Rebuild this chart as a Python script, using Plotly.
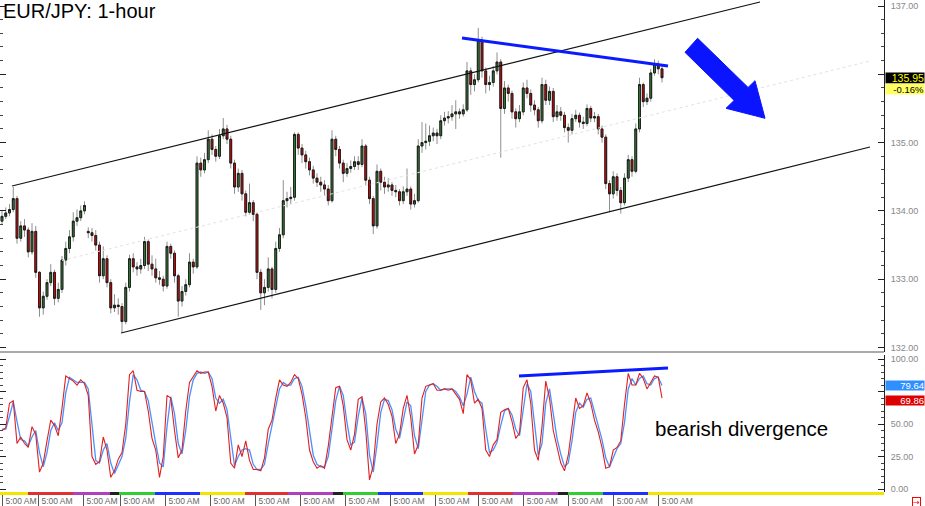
import plotly.graph_objects as go

# ---------------- data (2-hour sampling) ----------------
OPEN = [133.85, 133.92, 133.97, 134.02, 134.18, 133.60, 133.78, 133.72, 133.40, 133.70,
        133.10, 132.58, 132.75, 132.95, 133.10, 132.72, 132.85, 133.28, 133.45, 133.62,
        133.85, 133.90, 134.00, 133.70, 133.68, 133.64, 133.50, 133.05, 133.30, 132.95,
        132.58, 132.62, 132.60, 132.38, 132.88, 133.30, 133.18, 133.15, 133.20, 133.55,
        133.22, 133.15, 133.02, 133.00, 132.90, 133.48, 133.38, 133.05, 132.68, 132.82,
        132.92, 133.25, 133.18, 134.70, 134.60, 134.75, 135.05, 134.90, 134.80, 135.10,
        135.20, 135.05, 134.70, 134.35, 134.55, 134.25, 133.98, 134.12, 133.95, 133.10,
        132.80, 132.88, 133.15, 132.85, 133.45, 133.65, 134.15, 134.18, 134.20, 135.12,
        134.92, 134.82, 134.72, 134.60, 134.48, 134.42, 134.38, 134.32, 134.15, 135.05,
        134.90, 134.70, 134.55, 134.62, 134.65, 134.72, 134.68, 134.95, 134.45, 134.18,
        133.78, 134.58, 134.42, 134.35, 134.38, 134.30, 134.28, 134.15, 134.28, 134.32,
        134.10, 134.15, 134.95, 135.00, 135.02, 135.10, 135.14, 135.10, 135.32, 135.36,
        135.38, 135.42, 135.45, 135.42, 135.48, 136.05, 135.85, 135.92, 136.50, 136.05,
        135.85, 135.88, 136.05, 136.18, 135.50, 135.80, 135.72, 135.45, 135.35, 135.45,
        135.80, 135.72, 135.55, 135.48, 135.32, 135.85, 135.62, 135.75, 135.38, 135.45,
        135.40, 135.22, 135.18, 135.35, 135.40, 135.30, 135.28, 135.50, 135.36, 135.38,
        135.20, 135.08, 134.40, 134.25, 134.50, 134.30, 134.12, 134.48, 134.75, 134.58,
        135.20, 135.85, 135.60, 135.65, 136.02, 136.15, 136.08]
HIGH = [134.00, 134.05, 134.10, 134.35, 134.22, 133.85, 133.88, 133.76, 133.82, 133.78,
        133.12, 132.82, 133.00, 133.22, 133.14, 132.95, 133.34, 133.55, 133.72, 133.98,
        134.02, 134.08, 134.14, 133.76, 133.75, 133.72, 133.55, 133.48, 133.35, 133.00,
        132.78, 132.72, 132.65, 132.95, 133.36, 133.38, 133.25, 133.30, 133.62, 133.58,
        133.35, 133.30, 133.12, 133.05, 133.55, 133.52, 133.42, 133.08, 132.90, 133.00,
        133.38, 133.30, 134.80, 134.78, 134.85, 135.18, 135.12, 134.95, 135.20, 135.36,
        135.26, 135.10, 134.75, 134.62, 134.60, 134.30, 134.40, 134.16, 133.98, 133.15,
        133.00, 133.32, 133.18, 133.55, 133.75, 134.45, 134.28, 134.35, 135.15, 135.15,
        134.98, 134.88, 134.78, 134.66, 134.55, 134.50, 134.45, 134.38, 135.18, 135.10,
        134.95, 134.75, 134.70, 134.74, 134.80, 134.80, 135.05, 134.98, 134.50, 134.22,
        134.68, 134.62, 134.50, 134.48, 134.42, 134.38, 134.32, 134.36, 134.62, 134.36,
        134.25, 135.05, 135.30, 135.28, 135.25, 135.22, 135.20, 135.40, 135.45, 135.46,
        135.55, 135.62, 135.50, 135.56, 136.18, 136.10, 136.00, 136.68, 136.55, 136.10,
        135.98, 136.12, 136.32, 136.22, 135.90, 135.85, 135.76, 135.50, 135.55, 135.88,
        135.92, 135.78, 135.62, 135.52, 135.95, 135.92, 135.82, 135.80, 135.55, 135.52,
        135.45, 135.28, 135.42, 135.48, 135.44, 135.38, 135.56, 135.54, 135.45, 135.42,
        135.25, 135.12, 134.45, 134.58, 134.55, 134.35, 134.55, 134.82, 134.80, 135.28,
        135.95, 135.88, 135.72, 136.08, 136.22, 136.20, 136.12]
LOW = [133.80, 133.88, 133.92, 133.98, 133.52, 133.55, 133.62, 133.32, 133.36, 133.02,
       132.45, 132.48, 132.70, 132.90, 132.62, 132.66, 132.80, 133.20, 133.38, 133.55,
       133.78, 133.85, 133.95, 133.60, 133.55, 133.42, 132.95, 133.00, 132.88, 132.50,
       132.52, 132.48, 132.22, 132.34, 132.82, 133.10, 133.05, 133.08, 133.15, 133.12,
       133.05, 132.95, 132.92, 132.82, 132.86, 133.30, 132.95, 132.45, 132.60, 132.76,
       132.88, 133.08, 133.15, 134.50, 134.55, 134.70, 134.82, 134.72, 134.76, 135.05,
       134.98, 134.62, 134.25, 134.28, 134.15, 133.92, 133.95, 133.85, 133.00, 132.55,
       132.62, 132.82, 132.72, 132.80, 133.40, 133.60, 134.05, 134.10, 134.15, 134.82,
       134.70, 134.62, 134.52, 134.40, 134.35, 134.28, 134.22, 134.08, 134.12, 134.80,
       134.62, 134.42, 134.50, 134.56, 134.60, 134.60, 134.64, 134.38, 134.10, 133.66,
       133.74, 134.30, 134.25, 134.28, 134.22, 134.20, 134.08, 134.10, 134.22, 134.02,
       134.05, 134.12, 134.85, 134.90, 134.95, 135.02, 134.98, 135.05, 135.25, 135.28,
       135.32, 135.20, 135.35, 135.38, 135.45, 135.70, 135.75, 135.88, 135.95, 135.72,
       135.76, 135.82, 136.00, 134.78, 135.42, 135.60, 135.35, 135.22, 135.30, 135.40,
       135.65, 135.45, 135.40, 135.22, 135.28, 135.55, 135.55, 135.30, 135.32, 135.32,
       135.15, 135.00, 135.12, 135.30, 135.22, 135.20, 135.24, 135.30, 135.30, 135.12,
       135.00, 134.32, 133.98, 134.18, 134.22, 133.96, 134.08, 134.42, 134.50, 134.55,
       135.15, 135.52, 135.55, 135.60, 135.98, 136.00, 135.88]
CLOSE = [133.92, 133.97, 134.02, 134.18, 133.60, 133.78, 133.72, 133.40, 133.70, 133.10,
         132.58, 132.75, 132.95, 133.10, 132.72, 132.85, 133.28, 133.45, 133.62, 133.85,
         133.90, 134.00, 134.08, 133.68, 133.64, 133.50, 133.05, 133.30, 132.95, 132.58,
         132.62, 132.60, 132.38, 132.88, 133.30, 133.18, 133.15, 133.20, 133.55, 133.22,
         133.15, 133.02, 133.00, 132.90, 133.48, 133.38, 133.05, 132.68, 132.82, 132.92,
         133.25, 133.18, 134.70, 134.60, 134.75, 135.05, 134.90, 134.80, 135.10, 135.20,
         135.05, 134.70, 134.35, 134.55, 134.25, 133.98, 134.12, 133.95, 133.10, 132.80,
         132.88, 133.15, 132.85, 133.45, 133.65, 134.15, 134.18, 134.20, 135.12, 134.92,
         134.82, 134.72, 134.60, 134.48, 134.42, 134.38, 134.32, 134.15, 135.05, 134.90,
         134.70, 134.55, 134.62, 134.65, 134.72, 134.68, 134.95, 134.45, 134.18, 133.78,
         134.58, 134.42, 134.35, 134.38, 134.30, 134.28, 134.15, 134.28, 134.32, 134.10,
         134.15, 134.95, 135.00, 135.02, 135.10, 135.14, 135.10, 135.32, 135.36, 135.38,
         135.42, 135.45, 135.42, 135.48, 136.05, 135.85, 135.92, 136.50, 136.05, 135.85,
         135.88, 136.05, 136.18, 135.50, 135.80, 135.72, 135.45, 135.35, 135.45, 135.80,
         135.72, 135.55, 135.48, 135.32, 135.85, 135.62, 135.75, 135.38, 135.45, 135.40,
         135.22, 135.18, 135.35, 135.40, 135.30, 135.28, 135.50, 135.36, 135.38, 135.20,
         135.08, 134.40, 134.25, 134.50, 134.30, 134.12, 134.48, 134.75, 134.58, 135.20,
         135.85, 135.60, 135.65, 136.02, 136.15, 136.08, 135.95]

STOCH_K = [45, 47, 66, 68, 35, 40, 35, 32, 48, 42,
           13, 20, 37, 53, 49, 41, 62, 87, 85, 83,
           80, 84, 81, 72, 25, 19, 21, 40, 30, 9,
           14, 23, 28, 50, 88, 91, 76, 75, 75, 60,
           39, 30, 9, 25, 72, 70, 45, 24, 30, 60,
           82, 87, 91, 89, 90, 90, 79, 60, 72, 66,
           55, 20, 16, 34, 25, 37, 22, 15, 15, 14,
           24, 46, 53, 70, 84, 80, 79, 82, 88, 85,
           73, 55, 30, 21, 16, 18, 16, 33, 58, 78,
           79, 64, 38, 30, 42, 69, 71, 45, 7, 18,
           50, 67, 70, 65, 56, 35, 42, 62, 72, 55,
           27, 34, 70, 79, 80, 81, 76, 76, 77, 76,
           77, 73, 69, 58, 88, 84, 66, 69, 62, 30,
           25, 34, 38, 59, 61, 62, 52, 39, 43, 78,
           84, 66, 30, 22, 48, 83, 70, 45, 33, 20,
           14, 26, 48, 70, 62, 64, 74, 66, 53, 44,
           32, 16, 17, 30, 32, 37, 65, 89, 80, 80,
           89, 85, 77, 82, 87, 86, 69.86]
STOCH_D = [46, 46, 56, 67, 52, 38, 37, 33, 40, 45,
           28, 17, 28, 45, 51, 45, 51, 74, 86, 84,
           82, 82, 82, 77, 49, 22, 20, 30, 35, 20,
           12, 18, 25, 39, 67, 88, 84, 76, 75, 68,
           50, 35, 20, 17, 48, 71, 58, 35, 27, 45,
           71, 84, 89, 90, 89, 90, 85, 70, 66, 69,
           61, 38, 18, 25, 30, 31, 30, 19, 15, 15,
           19, 35, 50, 62, 77, 82, 80, 80, 85, 86,
           79, 64, 43, 26, 19, 17, 17, 25, 46, 68,
           79, 72, 51, 34, 36, 56, 70, 58, 26, 13,
           34, 59, 69, 68, 61, 46, 39, 52, 67, 64,
           41, 31, 52, 75, 80, 81, 79, 76, 77, 77,
           77, 75, 71, 64, 73, 86, 75, 68, 66, 46,
           28, 30, 36, 49, 60, 62, 57, 46, 41, 61,
           81, 75, 48, 26, 35, 66, 77, 58, 39, 27,
           17, 20, 37, 59, 66, 63, 69, 70, 60, 49,
           38, 24, 17, 24, 31, 35, 51, 77, 85, 80,
           85, 87, 81, 80, 85, 86, 79.64]

BAR_IDX = list(range(len(CLOSE)))
TICK_IDX = [0, 9.6, 21.6, 31.47, 43.47, 55.47, 67.47, 79.47, 91.47, 103.47,
            115.47, 127, 139, 151, 163, 175]
TICK_TEXT = ["5:00 AM"] * len(TICK_IDX)
PRICE_TICKS = [132, 133, 134, 135, 136, 137]
PRICE_TICK_TEXT = ["132.00", "133.00", "134.00", "135.00", "", "137.00"]   # 136.00 hidden by price box
STOCH_TICKS = [0, 25, 50, 75, 100]
STOCH_TICK_TEXT = ["0.00", "25.00", "50.00", "", "100.00"]                  # 75.00 hidden by value boxes
LAST_PRICE = "135.95"
LAST_CHANGE = "-0.16%"
LAST_D = "79.64"
LAST_K = "69.86"

# drawn studies (bar index, value)
CHANNEL_UP_X, CHANNEL_UP_Y = [2.67, 202.13], [134.365, 137.059]
CHANNEL_LO_X, CHANNEL_LO_Y = [31.73, 231.47], [132.212, 134.936]
CHANNEL_MID_X, CHANNEL_MID_Y = [16.0, 231.47], [133.274, 136.195]
RESIST_X, RESIST_Y = [122.67, 177.6], [136.531, 136.122]
STOCH_LINE_X, STOCH_LINE_Y = [137.87, 177.6], [86.9, 93.1]
ARROW_X = [185.5, 198.96, 200.8, 203.47, 193.07, 195.23, 182.13]
ARROW_Y = [136.527, 135.808, 135.906, 135.356, 135.502, 135.618, 136.322]
DAY_BANDS = [(-0.53, 6.93, "#f2e600"), (6.93, 18.93, "#e03030"), (18.93, 28.8, "#b040c0"),
             (28.8, 31.2, "#222222"), (31.2, 40.8, "#33cc33"), (40.8, 52.8, "#2030ff"),
             (52.8, 64.8, "#f2e600"), (64.8, 76.27, "#e03030"), (76.27, 88.27, "#b040c0"),
             (88.27, 90.93, "#222222"), (90.93, 100.27, "#33cc33"), (100.27, 112.27, "#2030ff"),
             (112.27, 124.27, "#f2e600"), (124.27, 136.27, "#e03030"), (136.27, 148.27, "#b040c0"),
             (148.27, 150.93, "#222222"), (150.93, 160.27, "#33cc33"), (160.27, 172.27, "#2030ff"),
             (172.27, 235.3, "#f2e600")]

# ---------------- figure ----------------
W, H = 925, 506
ML, MR, MT, MB = 0, 41, 0, 14
PH = H - MT - MB
price_dom = [(PH - 352) / PH, 1.0]
stoch_dom = [0.0, (PH - 355) / PH]
FONT = "Liberation Sans, Arial, sans-serif"

fig = go.Figure()

# wicks (grey)
fig.add_trace(go.Candlestick(
    x=BAR_IDX, open=OPEN, high=HIGH, low=LOW, close=CLOSE,
    increasing=dict(line=dict(color="#8f8f8f", width=1), fillcolor="#8f8f8f"),
    decreasing=dict(line=dict(color="#8f8f8f", width=1), fillcolor="#8f8f8f"),
    whiskerwidth=0, hoverinfo="skip", showlegend=False, xaxis="x", yaxis="y"))
# bodies
BODY_HI = [max(o, c) for o, c in zip(OPEN, CLOSE)]
BODY_LO = [min(o, c) for o, c in zip(OPEN, CLOSE)]
fig.add_trace(go.Candlestick(
    x=BAR_IDX, open=OPEN, high=BODY_HI, low=BODY_LO, close=CLOSE,
    increasing=dict(line=dict(color="#1b1b1b", width=1), fillcolor="#2f8a2f"),
    decreasing=dict(line=dict(color="#1b1b1b", width=1), fillcolor="#ee0000"),
    whiskerwidth=0, hoverinfo="skip", showlegend=False, xaxis="x", yaxis="y"))

# channel
fig.add_trace(go.Scatter(x=CHANNEL_MID_X, y=CHANNEL_MID_Y, mode="lines",
                         line=dict(color="#e2e2e2", width=1, dash="dot"),
                         hoverinfo="skip", showlegend=False, yaxis="y"))
for xs, ys in [(CHANNEL_UP_X, CHANNEL_UP_Y), (CHANNEL_LO_X, CHANNEL_LO_Y)]:
    fig.add_trace(go.Scatter(x=xs, y=ys, mode="lines", line=dict(color="#111111", width=1.2),
                             hoverinfo="skip", showlegend=False, yaxis="y"))
fig.add_trace(go.Scatter(x=RESIST_X, y=RESIST_Y, mode="lines", line=dict(color="#0a1cff", width=3),
                         hoverinfo="skip", showlegend=False, yaxis="y"))

# stochastic
fig.add_trace(go.Scatter(x=BAR_IDX, y=STOCH_D, mode="lines", line=dict(color="#4a90ff", width=1.3),
                         hoverinfo="skip", showlegend=False, yaxis="y2"))
fig.add_trace(go.Scatter(x=BAR_IDX, y=STOCH_K, mode="lines", line=dict(color="#e02020", width=1.1),
                         hoverinfo="skip", showlegend=False, yaxis="y2"))
fig.add_trace(go.Scatter(x=STOCH_LINE_X, y=STOCH_LINE_Y, mode="lines", line=dict(color="#0a1cff", width=3),
                         hoverinfo="skip", showlegend=False, yaxis="y2"))

shapes = []
# big arrow
path = "M " + " L ".join(f"{x},{y}" for x, y in zip(ARROW_X, ARROW_Y)) + " Z"
shapes.append(dict(type="path", path=path, xref="x", yref="y", fillcolor="#0a14ff",
                   line=dict(color="#0a14ff", width=1), layer="above"))
# separator between panels
shapes.append(dict(type="line", xref="paper", yref="paper", x0=0, x1=1, y0=price_dom[0], y1=price_dom[0],
                   line=dict(color="#555555", width=1)))
# day colour strip
for a, b, col in DAY_BANDS:
    shapes.append(dict(type="rect", xref="x", yref="paper", x0=a, x1=b, y0=-3.0 / PH, y1=0,
                       fillcolor=col, line=dict(width=0), layer="above"))

axis_font = dict(family=FONT, size=9, color="#888888")
annotations = [
    dict(text="EUR/JPY: 1-hour", xref="paper", yref="paper", x=0, y=1, xanchor="left", yanchor="top",
         xshift=1, yshift=2, showarrow=False, font=dict(family=FONT, size=20, color="#000000")),
    dict(text="bearish divergence", xref="x", yref="y2", x=173.6, y=46.5, xanchor="left", yanchor="middle",
         showarrow=False, font=dict(family=FONT, size=20.5, color="#000000")),
    dict(text=LAST_PRICE, xref="paper", yref="y", x=1, y=135.95, xanchor="left", yanchor="middle",
         xshift=1, showarrow=False, bgcolor="#000000", width=38, height=10, align="right", borderpad=0,
         font=dict(family=FONT, size=10.5, color="#ffff00")),
    dict(text=LAST_CHANGE, xref="paper", yref="y", x=1, y=135.95, xanchor="left", yanchor="middle",
         xshift=1, yshift=-11, showarrow=False, bgcolor="#ffff66", width=38, height=10, align="right",
         borderpad=0, font=dict(family=FONT, size=9.5, color="#000000")),
    dict(text=LAST_D, xref="paper", yref="y2", x=1, y=79.64, xanchor="left", yanchor="middle",
         xshift=1, showarrow=False, bgcolor="#2f8fff", width=38, height=9, align="right", borderpad=0,
         font=dict(family=FONT, size=9.5, color="#ffffff")),
    dict(text=LAST_K, xref="paper", yref="y2", x=1, y=69.86, xanchor="left", yanchor="middle",
         xshift=1, yshift=-2, showarrow=False, bgcolor="#dd0000", width=38, height=9, align="right",
         borderpad=0, font=dict(family=FONT, size=9.5, color="#ffffff")),
    dict(text="→", xref="paper", yref="paper", x=1, y=0, xanchor="left", yanchor="top",
         xshift=28, yshift=-5, showarrow=False, bordercolor="#ff0000", borderwidth=1, borderpad=0,
         bgcolor="#ffffff", font=dict(family="DejaVu Sans", size=8, color="#ff0000")),
]

fig.update_layout(
    width=W, height=H, margin=dict(l=ML, r=MR, t=MT, b=MB),
    paper_bgcolor="#ffffff", plot_bgcolor="#ffffff",
    showlegend=False, boxgap=0.3, hovermode=False,
    shapes=shapes, annotations=annotations,
    xaxis=dict(domain=[0, 1], anchor="y2", range=[-0.533, 235.2], rangeslider=dict(visible=False),
               showgrid=False, zeroline=False, showline=False,
               tickmode="array", tickvals=TICK_IDX, ticktext=TICK_TEXT,
               ticks="outside", ticklen=13, tickcolor="#555555", tickwidth=1,
               ticklabelshift=19, ticklabelstandoff=-12,
               tickfont=dict(family=FONT, size=8.5, color="#666666")),
    yaxis=dict(domain=price_dom, anchor="x", side="right", range=[131.934, 137.088],
               showgrid=False, zeroline=False, showline=True, linecolor="#222222", linewidth=1,
               mirror="ticks", tickmode="array", tickvals=PRICE_TICKS, ticktext=PRICE_TICK_TEXT,
               ticks="inside", ticklen=6, tickcolor="#222222", ticklabelstandoff=4,
               minor=dict(dtick=0.2, ticks="inside", ticklen=3, tickcolor="#444444"),
               tickfont=axis_font),
    yaxis2=dict(domain=stoch_dom, anchor="x", side="right", range=[-2.3, 103.1],
                showgrid=False, zeroline=False, showline=True, linecolor="#222222", linewidth=1,
                mirror="ticks", tickmode="array", tickvals=STOCH_TICKS, ticktext=STOCH_TICK_TEXT,
                ticks="inside", ticklen=6, tickcolor="#222222", ticklabelstandoff=4,
                minor=dict(dtick=5, ticks="inside", ticklen=3, tickcolor="#444444"),
                tickfont=axis_font),
)

fig.write_html("out.html", config={"displayModeBar": False},
               post_script="document.body.style.margin='0px';document.body.style.overflow='hidden';")
